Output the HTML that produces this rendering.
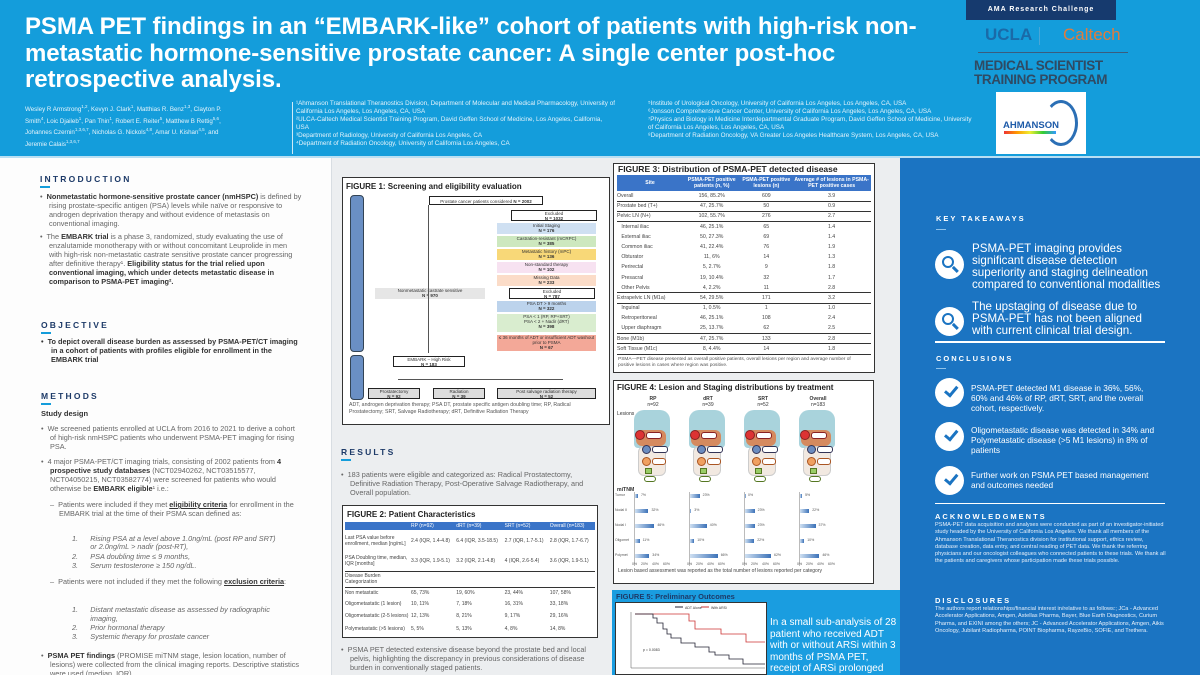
<!DOCTYPE html>
<html><head><meta charset="utf-8"><style>
*{margin:0;padding:0;box-sizing:border-box}
html,body{width:1200px;height:675px;overflow:hidden}
body{position:relative;background:#eceef0;font-family:"Liberation Sans",sans-serif;color:#555}
.a{position:absolute}
#hdr{left:0;top:0;width:1200px;height:156px;background:#149ddb}
h1{position:absolute;left:25px;top:14px;width:915px;font-size:24px;line-height:26.5px;color:#fff;font-weight:bold;letter-spacing:-0.1px}
.aff{font-size:6.3px;line-height:8px;color:#e4f3fb}
sup{font-size:4.5px;line-height:0;vertical-align:3px}
#left{left:0;top:158px;width:332px;height:517px;background:#fdfdfd;border-right:1px solid #d8dde2}
.sec{font-size:8.5px;font-weight:bold;letter-spacing:2.2px;color:#1d3a68}
.ul{width:10px;height:2px;background:#149ddb}
.t{font-size:7.3px;line-height:8.9px;color:#666}
.t b{color:#333}
#right{left:900px;top:158px;width:300px;height:517px;background:#1b74c2}
.rs{font-size:7.5px;font-weight:bold;letter-spacing:2px;color:#fff}
.rt{font-size:11.6px;line-height:12px;color:#fff}
.ct{font-size:8.3px;line-height:10px;color:#fff}
.circ{width:29px;height:29px;border-radius:50%;background:#fff}
.sm{font-size:5.6px;line-height:7.3px;color:#e8f0fa}
.box{background:#fff;border:1.3px solid #333}
.ft{font-size:8px;font-weight:bold;color:#222}
table{border-collapse:collapse;font-size:5px;color:#444}
.fb{position:absolute;font-size:4.5px;text-align:center;color:#333;line-height:5px}
</style></head><body>
<div id="hdr" class="a"></div>
<h1>PSMA PET findings in an “EMBARK-like” cohort of patients with high-risk non-metastatic hormone-sensitive prostate cancer: A single center post-hoc retrospective analysis.</h1>
<div class="a aff" style="left:25px;top:104px;width:215px;font-size:6.2px;line-height:11.5px">Wesley R Armstrong<sup>1,2</sup>, Kevyn J. Clark<sup>1</sup>, Matthias R. Benz<sup>1,3</sup>, Clayton P. Smith<sup>4</sup>, Loic Djaileb<sup>1</sup>, Pan Thin<sup>1</sup>, Robert E. Reiter<sup>5</sup>, Matthew B Rettig<sup>5,6</sup>, Johannes Czernin<sup>1,3,6,7</sup>, Nicholas G. Nickols<sup>4,8</sup>, Amar U. Kishan<sup>4,5</sup>, and Jeremie Calais<sup>1,3,6,7</sup></div>
<div class="a" style="left:292px;top:102px;width:1px;height:52px;background:#cfeaf7"></div>
<div class="a aff" style="left:296px;top:100px;width:320px">¹Ahmanson Translational Theranostics Division, Department of Molecular and Medical Pharmacology, University of California Los Angeles, Los Angeles, CA, USA<br>²ULCA-Caltech Medical Scientist Training Program, David Geffen School of Medicine, Los Angeles, California, USA<br>³Department of Radiology, University of California Los Angeles, CA<br>⁴Department of Radiation Oncology, University of California Los Angeles, CA</div>
<div class="a aff" style="left:648px;top:100px;width:325px">⁵Institute of Urological Oncology, University of California Los Angeles, Los Angeles, CA, USA<br>⁶Jonsson Comprehensive Cancer Center, University of California Los Angeles, Los Angeles, CA, USA<br>⁷Physics and Biology in Medicine Interdepartmental Graduate Program, David Geffen School of Medicine, University of California Los Angeles, Los Angeles, CA, USA<br>⁸Department of Radiation Oncology, VA Greater Los Angeles Healthcare System, Los Angeles, CA, USA</div>
<div class="a" style="left:966px;top:0;width:150px;height:20px;background:#163a6e;color:#fff;font-size:7px;font-weight:bold;letter-spacing:1px;text-align:center;line-height:20px">AMA Research Challenge</div>
<div class="a" style="left:985px;top:25px;font-size:17px;color:#1a6aa8;font-weight:bold">UCLA</div>
<div class="a" style="left:1039px;top:27px;width:1px;height:18px;background:#4aa6d6"></div>
<div class="a" style="left:1063px;top:25px;font-size:17px;color:#e07c3c">Caltech</div>
<div class="a" style="left:978px;top:52px;width:150px;height:1px;background:#3a5d7e"></div>
<div class="a" style="left:974px;top:59px;font-size:13.5px;line-height:14px;color:#2f4a63;font-weight:bold;letter-spacing:-0.4px">MEDICAL SCIENTIST<br>TRAINING PROGRAM</div>
<div class="a" style="left:996px;top:92px;width:90px;height:62px;background:#fff"></div>
<div class="a" style="left:1003px;top:120px;font-size:9.5px;font-weight:bold;color:#1d5aa8">AHMANSON</div>
<div class="a" style="left:1004px;top:131px;width:52px;height:3px;background:linear-gradient(90deg,#e33,#f90,#ee3,#3c3,#39f)"></div>
<div class="a" style="left:1044px;top:100px;width:34px;height:46px;border:3px solid #2b6fb5;border-left-color:transparent;border-radius:50%"></div>
<div class="a" style="left:0;top:156px;width:1200px;height:2px;background:#b9dff3"></div>

<div id="left" class="a"></div>
<div class="a sec" style="left:40px;top:174px">INTRODUCTION</div><div class="a ul" style="left:40px;top:186px"></div>
<div class="a t" style="left:40px;top:193px;width:262px;padding-left:9px;text-indent:-9px">•&nbsp; <b>Nonmetastatic hormone-sensitive prostate cancer (nmHSPC)</b> is defined by rising prostate-specific antigen (PSA) levels while naïve or responsive to androgen deprivation therapy and without evidence of metastasis on conventional imaging.</div>
<div class="a t" style="left:40px;top:233px;width:262px;padding-left:9px;text-indent:-9px">•&nbsp; The <b>EMBARK trial</b> is a phase 3, randomized, study evaluating the use of enzalutamide monotherapy with or without concomitant Leuprolide in men with high-risk non-metastatic castrate sensitive prostate cancer progressing after definitive therapy¹. <b>Eligibility status for the trial relied upon conventional imaging, which under detects metastatic disease in comparison to PSMA-PET imaging².</b></div>
<div class="a sec" style="left:41px;top:320px">OBJECTIVE</div><div class="a ul" style="left:41px;top:332px"></div>
<div class="a t" style="left:41px;top:338px;width:262px;padding-left:10px;text-indent:-10px"><b>•&nbsp; To depict overall disease burden as assessed by PSMA-PET/CT imaging in a cohort of patients with profiles eligible for enrollment in the EMBARK trial</b></div>
<div class="a sec" style="left:41px;top:391px">METHODS</div><div class="a ul" style="left:41px;top:403px"></div>
<div class="a" style="left:41px;top:409px;font-size:7.5px;font-weight:bold;color:#333">Study design</div>
<div class="a t" style="left:41px;top:425px;width:255px;padding-left:9px;text-indent:-9px">•&nbsp; We screened patients enrolled at UCLA from 2016 to 2021 to derive a cohort of high-risk nmHSPC patients who underwent PSMA-PET imaging for rising PSA.</div>
<div class="a t" style="left:41px;top:458px;width:262px;padding-left:9px;text-indent:-9px">•&nbsp; 4 major PSMA-PET/CT imaging trials, consisting of 2002 patients from <b>4 prospective study databases</b> (NCT02940262, NCT03515577, NCT04050215, NCT03582774) were screened for patients who would otherwise be <b>EMBARK eligible</b>¹ i.e.:</div>
<div class="a t" style="left:50px;top:501px;width:250px;padding-left:9px;text-indent:-9px">–&nbsp; Patients were included if they met <b><u>eligibility criteria</u></b> for enrollment in the EMBARK trial at the time of their PSMA scan defined as:</div>
<div class="a t" style="left:72px;top:535px;width:225px;font-style:italic;line-height:8px">1.&nbsp;&nbsp;&nbsp;&nbsp;&nbsp; Rising PSA at a level above 1.0ng/mL (post RP and SRT)<br>&nbsp;&nbsp;&nbsp;&nbsp;&nbsp;&nbsp;&nbsp;&nbsp; or 2.0ng/mL &gt; nadir (post-RT),<br><span style="line-height:11px">2.&nbsp;&nbsp;&nbsp;&nbsp;&nbsp; PSA doubling time ≤ 9 months,</span><br>3.&nbsp;&nbsp;&nbsp;&nbsp;&nbsp; Serum testosterone ≥ 150 ng/dL.</div>
<div class="a t" style="left:50px;top:578px;width:250px;padding-left:9px;text-indent:-9px">–&nbsp; Patients were not included if they met the following <b><u>exclusion criteria</u></b>:</div>
<div class="a t" style="left:72px;top:606px;width:225px;font-style:italic">1.&nbsp;&nbsp;&nbsp;&nbsp;&nbsp; Distant metastatic disease as assessed by radiographic<br>&nbsp;&nbsp;&nbsp;&nbsp;&nbsp;&nbsp;&nbsp;&nbsp; imaging,<br>2.&nbsp;&nbsp;&nbsp;&nbsp;&nbsp; Prior hormonal therapy<br>3.&nbsp;&nbsp;&nbsp;&nbsp;&nbsp; Systemic therapy for prostate cancer</div>
<div class="a t" style="left:41px;top:652px;width:265px;padding-left:9px;text-indent:-9px">•&nbsp; <b>PSMA PET findings</b> (PROMISE miTNM stage, lesion location, number of lesions) were collected from the clinical imaging reports. Descriptive statistics were used (median, IQR).</div>

<!-- Figure 1 -->
<div class="a box" style="left:342px;top:177px;width:268px;height:248px"></div>
<div class="a ft" style="left:346px;top:182px">FIGURE 1: Screening and eligibility evaluation</div>
<div class="a" style="left:350px;top:195px;width:14px;height:157px;background:#6a8fc4;border-radius:4px;border:1px solid #345"></div>
<div class="a" style="left:350px;top:355px;width:14px;height:45px;background:#6a8fc4;border-radius:4px;border:1px solid #345"></div>
<div class="fb" style="left:429px;top:196px;width:114px;height:9px;border:1px solid #222;padding-top:2px">Prostate cancer patients considered <b>N = 2002</b></div>
<div class="fb" style="left:511px;top:210px;width:86px;height:11px;border:1px solid #222">Excluded<br><b>N = 1032</b></div>
<div class="fb" style="left:497px;top:223px;width:99px;height:11px;background:#cfe0f2">Initial Staging<br><b>N = 176</b></div>
<div class="fb" style="left:497px;top:236px;width:99px;height:11px;background:#cde8bf">Castration-resistant (mCRPC)<br><b>N = 385</b></div>
<div class="fb" style="left:497px;top:249px;width:99px;height:11px;background:#f8d878">Metastatic history (mPC)<br><b>N = 136</b></div>
<div class="fb" style="left:497px;top:262px;width:99px;height:11px;background:#f7e2f1">Non-standard therapy<br><b>N = 102</b></div>
<div class="fb" style="left:497px;top:275px;width:99px;height:11px;background:#fbdcc8">Missing Data<br><b>N = 233</b></div>
<div class="fb" style="left:375px;top:288px;width:110px;height:11px;background:#e6e6e6">Nonmetastatic castrate sensitive<br><b>N = 970</b></div>
<div class="fb" style="left:509px;top:288px;width:86px;height:11px;border:1px solid #222">Excluded<br><b>N = 787</b></div>
<div class="fb" style="left:497px;top:301px;width:99px;height:11px;background:#bcd3ec">PSA DT &gt; 9 months<br><b>N = 322</b></div>
<div class="fb" style="left:497px;top:314px;width:99px;height:18px;background:#d9edcf">PSA &lt; 1 (RP, RP+SRT)<br>PSA &lt; 2 + Nadir (dRT)<br><b>N = 398</b></div>
<div class="fb" style="left:497px;top:335px;width:99px;height:16px;background:#f3a898">≤ 36 months of ADT or insufficient ADT washout prior to PSMA<br><b>N = 67</b></div>
<div class="a" style="left:428px;top:205px;width:1px;height:148px;background:#555"></div>
<div class="fb" style="left:393px;top:356px;width:72px;height:11px;border:1px solid #222">EMBARK – High Risk<br><b>N = 183</b></div>
<div class="a" style="left:398px;top:379px;width:165px;height:1px;background:#555"></div>
<div class="fb" style="left:368px;top:388px;width:52px;height:11px;background:#ddd;border:1px solid #222">Prostatectomy<br><b>N = 92</b></div>
<div class="fb" style="left:433px;top:388px;width:52px;height:11px;background:#ddd;border:1px solid #222">Radiation<br><b>N = 39</b></div>
<div class="fb" style="left:497px;top:388px;width:99px;height:11px;background:#ddd;border:1px solid #222">Post salvage radiation therapy<br><b>N = 52</b></div>
<div class="a" style="left:349px;top:402px;width:255px;font-size:5.2px;line-height:6.5px;color:#555">ADT, androgen deprivation therapy; PSA DT, prostate specific antigen doubling time; RP, Radical Prostatectomy; SRT, Salvage Radiotherapy; dRT, Definitive Radiation Therapy</div>

<div class="a sec" style="left:341px;top:447px">RESULTS</div><div class="a ul" style="left:341px;top:459px"></div>
<div class="a t" style="left:341px;top:471px;width:245px;padding-left:9px;text-indent:-9px">•&nbsp; 183 patients were eligible and categorized as: Radical Prostatectomy, Definitive Radiation Therapy, Post-Operative Salvage Radiotherapy, and Overall population.</div>
<div class="a box" style="left:342px;top:505px;width:256px;height:133px"></div>
<div class="a ft" style="left:347px;top:510px">FIGURE 2: Patient Characteristics</div>
<table class="a" style="left:345px;top:522px;width:250px">
<tr style="background:#3a74c8;color:#fff;height:8px"><td style="width:66px"></td><td>RP (n=92)</td><td>dRT (n=39)</td><td>SRT (n=52)</td><td>Overall (n=183)</td></tr>
<tr style="height:22px"><td>Last PSA value before enrollment, median [ng/mL]</td><td>2.4 (IQR, 1.4-4.8)</td><td>6.4 (IQR, 3.5-18.5)</td><td>2.7 (IQR, 1.7-5.1)</td><td>2.8 (IQR, 1.7-6.7)</td></tr>
<tr style="height:19px;border-bottom:1px solid #333"><td>PSA Doubling time, median, IQR [months]</td><td>3.3 (IQR, 1.9-5.1)</td><td>3.2 (IQR, 2.1-4.8)</td><td>4 (IQR, 2.6-5.4)</td><td>3.6 (IQR, 1.9-5.1)</td></tr>
<tr style="height:16px;border-bottom:1px solid #333"><td>Disease Burden Categorization</td><td></td><td></td><td></td><td></td></tr>
<tr style="height:11px"><td>Non metastatic</td><td>65, 73%</td><td>19, 60%</td><td>23, 44%</td><td>107, 58%</td></tr>
<tr style="height:11px"><td>Oligometastatic (1 lesion)</td><td>10, 11%</td><td>7, 18%</td><td>16, 31%</td><td>33, 18%</td></tr>
<tr style="height:14px"><td>Oligometastatic (2-5 lesions)</td><td>12, 13%</td><td>8, 21%</td><td>9, 17%</td><td>29, 16%</td></tr>
<tr style="height:11px"><td>Polymetastatic (&gt;5 lesions)</td><td>5, 5%</td><td>5, 13%</td><td>4, 8%</td><td>14, 8%</td></tr>
</table>
<div class="a t" style="left:341px;top:646px;width:255px;padding-left:9px;text-indent:-9px">•&nbsp; PSMA PET detected extensive disease beyond the prostate bed and local pelvis, highlighting the discrepancy in previous considerations of disease burden in conventionally staged patients.</div>

<!-- Figure 3 -->
<div class="a box" style="left:613px;top:163px;width:262px;height:210px"></div>
<div class="a ft" style="left:618px;top:164px;font-size:8.5px">FIGURE 3: Distribution of PSMA-PET detected disease</div>
<table class="a" style="left:617px;top:175px;width:254px;font-size:5.2px">
<tr style="background:#3a74c8;color:#fff;height:16px;text-align:center;font-weight:bold"><td style="width:66px">Site</td><td>PSMA-PET positive patients (n, %)</td><td>PSMA-PET positive lesions (n)</td><td>Average # of lesions in PSMA-PET positive cases</td></tr>
<tr style="height:10.2px;border-bottom:1px solid #333"><td>Overall</td><td align=center>156, 85.2%</td><td align=center>609</td><td align=center>3.9</td></tr>
<tr style="height:10.2px;border-bottom:1px solid #333"><td>Prostate bed (T+)</td><td align=center>47, 25.7%</td><td align=center>50</td><td align=center>0.9</td></tr>
<tr style="height:10.2px;border-bottom:1px solid #333"><td>Pelvic LN (N+)</td><td align=center>102, 55.7%</td><td align=center>276</td><td align=center>2.7</td></tr>
<tr style="height:10.2px"><td>&nbsp;&nbsp;&nbsp;Internal iliac</td><td align=center>46, 25.1%</td><td align=center>65</td><td align=center>1.4</td></tr>
<tr style="height:10.2px"><td>&nbsp;&nbsp;&nbsp;External iliac</td><td align=center>50, 27.3%</td><td align=center>69</td><td align=center>1.4</td></tr>
<tr style="height:10.2px"><td>&nbsp;&nbsp;&nbsp;Common iliac</td><td align=center>41, 22.4%</td><td align=center>76</td><td align=center>1.9</td></tr>
<tr style="height:10.2px"><td>&nbsp;&nbsp;&nbsp;Obturator</td><td align=center>11, 6%</td><td align=center>14</td><td align=center>1.3</td></tr>
<tr style="height:10.2px"><td>&nbsp;&nbsp;&nbsp;Perirectal</td><td align=center>5, 2.7%</td><td align=center>9</td><td align=center>1.8</td></tr>
<tr style="height:10.2px"><td>&nbsp;&nbsp;&nbsp;Presacral</td><td align=center>19, 10.4%</td><td align=center>32</td><td align=center>1.7</td></tr>
<tr style="height:10.2px;border-bottom:1px solid #333"><td>&nbsp;&nbsp;&nbsp;Other Pelvis</td><td align=center>4, 2.2%</td><td align=center>11</td><td align=center>2.8</td></tr>
<tr style="height:10.2px;border-bottom:1px solid #333"><td>Extrapelvic LN (M1a)</td><td align=center>54, 29.5%</td><td align=center>171</td><td align=center>3.2</td></tr>
<tr style="height:10.2px"><td>&nbsp;&nbsp;&nbsp;Inguinal</td><td align=center>1, 0.5%</td><td align=center>1</td><td align=center>1.0</td></tr>
<tr style="height:10.2px"><td>&nbsp;&nbsp;&nbsp;Retroperitoneal</td><td align=center>46, 25.1%</td><td align=center>108</td><td align=center>2.4</td></tr>
<tr style="height:10.2px;border-bottom:1px solid #333"><td>&nbsp;&nbsp;&nbsp;Upper diaphragm</td><td align=center>25, 13.7%</td><td align=center>62</td><td align=center>2.5</td></tr>
<tr style="height:10.2px;border-bottom:1.5px solid #333"><td>Bone (M1b)</td><td align=center>47, 25.7%</td><td align=center>133</td><td align=center>2.8</td></tr>
<tr style="height:10.2px;border-bottom:1px solid #333"><td>Soft Tissue (M1c)</td><td align=center>8, 4.4%</td><td align=center>14</td><td align=center>1.8</td></tr>
</table>
<div class="a" style="left:618px;top:357px;width:250px;font-size:4.8px;line-height:6px;color:#555">PSMA—PET disease presented as overall positive patients, overall lesions per region and average number of positive lesions in cases where region was positive.</div>

<!-- Figure 4 -->
<div class="a box" style="left:613px;top:380px;width:261px;height:204px"></div>
<div class="a ft" style="left:617px;top:383px">FIGURE 4: Lesion and Staging distributions by treatment</div>
<div class="a" style="left:617px;top:411px;font-size:5px;color:#333">Lesions</div>
<div class="a" style="left:617px;top:487px;font-size:5.2px;font-weight:bold;color:#333">miTNM</div>
<div id="f4"></div>
<div class="a" style="left:618px;top:568px;width:250px;font-size:5px;line-height:6px;color:#444">Lesion based assessment was reported as the total number of lesions reported per category</div>

<!-- Figure 5 -->
<div class="a" style="left:612px;top:590px;width:288px;height:85px;background:#1a9de0;overflow:hidden"></div>
<div class="a" style="left:616px;top:592px;font-size:7.5px;font-weight:bold;color:#1d3a68">FIGURE 5: Preliminary Outcomes</div>
<div class="a" style="left:615px;top:602px;width:152px;height:73px;background:#fff;border:1px solid #333"></div>
<svg class="a" style="left:615px;top:602px" width="152" height="73">
<line x1="60" y1="5" x2="68" y2="5" stroke="#223" stroke-width="1"/><line x1="86" y1="5" x2="94" y2="5" stroke="#c33" stroke-width="1"/>
<text x="70" y="7" font-size="3.5" fill="#333">ADT Alone</text><text x="96" y="7" font-size="3.5" fill="#333">With ARSi</text>
<line x1="16" y1="10" x2="16" y2="66" stroke="#555" stroke-width="0.5"/><line x1="16" y1="66" x2="150" y2="66" stroke="#555" stroke-width="0.5"/>
<polyline fill="none" stroke="#c33" stroke-width="0.8" points="20,12 74,12 74,19 80,19 80,27 106,27 106,32 131,32 131,40 150,40"/>
<polyline fill="none" stroke="#223" stroke-width="0.8" points="20,12 38,12 38,16 42,16 42,21 48,21 48,27 52,27 52,32 56,32 56,36 66,36 66,41 80,41 80,45 94,45 94,50 100,50 100,53 114,53 114,57 128,57 128,62 150,62"/>
<text x="28" y="49" font-size="3.5" fill="#333">p = 0.0083</text>
</svg>
<div class="a" style="left:770px;top:617px;width:128px;height:58px;overflow:hidden;font-size:10px;line-height:11.5px;color:#fff">In a small sub-analysis of 28 patient who received ADT with or without ARSi within 3 months of PSMA PET, receipt of ARSi prolonged time to PSA rise.</div>

<!-- Right -->
<div id="right" class="a"></div>
<div class="a rs" style="left:936px;top:214px">KEY TAKEAWAYS</div>
<div class="a" style="left:936px;top:229px;width:10px;height:1px;background:#8fc2ea"></div>
<div class="a circ" style="left:935px;top:250px"></div><div class="a circ" style="left:935px;top:307px"></div>
<div class="a" style="left:942px;top:256px;width:12px;height:12px;border:2px solid #1b74c2;border-radius:50%"></div>
<div class="a" style="left:942px;top:313px;width:12px;height:12px;border:2px solid #1b74c2;border-radius:50%"></div>
<div class="a" style="left:952px;top:268px;width:7px;height:2.5px;background:#1b74c2;transform:rotate(45deg)"></div>
<div class="a" style="left:952px;top:325px;width:7px;height:2.5px;background:#1b74c2;transform:rotate(45deg)"></div>
<div class="a rt" style="left:972px;top:243px;width:192px">PSMA-PET imaging provides significant disease detection superiority and staging delineation compared to conventional modalities</div>
<div class="a rt" style="left:972px;top:301px;width:186px">The upstaging of disease due to PSMA-PET has not been aligned with current clinical trial design.</div>
<div class="a" style="left:935px;top:341px;width:230px;height:2px;background:#fff"></div>
<div class="a rs" style="left:936px;top:354px">CONCLUSIONS</div>
<div class="a" style="left:936px;top:368px;width:10px;height:1px;background:#8fc2ea"></div>
<div class="a circ" style="left:935px;top:378px"></div><div class="a circ" style="left:935px;top:422px"></div><div class="a circ" style="left:935px;top:466px"></div>
<div class="a" style="left:943px;top:384px;width:8px;height:13px;border-right:3.5px solid #1b74c2;border-bottom:3.5px solid #1b74c2;transform:rotate(40deg) translate(3px,-3px)"></div>
<div class="a" style="left:943px;top:428px;width:8px;height:13px;border-right:3.5px solid #1b74c2;border-bottom:3.5px solid #1b74c2;transform:rotate(40deg) translate(3px,-3px)"></div>
<div class="a" style="left:943px;top:472px;width:8px;height:13px;border-right:3.5px solid #1b74c2;border-bottom:3.5px solid #1b74c2;transform:rotate(40deg) translate(3px,-3px)"></div>
<div class="a ct" style="left:971px;top:383px;width:190px">PSMA-PET detected M1 disease in 36%, 56%, 60% and 46% of RP, dRT, SRT, and the overall cohort, respectively.</div>
<div class="a ct" style="left:971px;top:425px;width:190px">Oligometastatic disease was detected in 34% and Polymetastatic disease (&gt;5 M1 lesions) in 8% of patients</div>
<div class="a ct" style="left:971px;top:470px;width:190px">Further work on PSMA PET based management and outcomes needed</div>
<div class="a" style="left:935px;top:503px;width:230px;height:1px;background:#fff"></div>
<div class="a rs" style="left:935px;top:512px">ACKNOWLEDGMENTS</div>
<div class="a sm" style="left:935px;top:522px;width:232px">PSMA-PET data acquisition and analyses were conducted as part of an investigator-initiated study headed by the University of California Los Angeles. We thank all members of the Ahmanson Translational Theranostics division for institutional support, ethics review, database creation, data entry, and central reading of PET data. We thank the referring physicians and our oncologist colleagues who connected patients to these trials. We thank all the patients and caregivers whose participation made these trials possible.</div>
<div class="a rs" style="left:935px;top:596px">DISCLOSURES</div>
<div class="a sm" style="left:935px;top:606px;width:232px">The authors report relationships/financial interest in/relative to as follows:; JCa - Advanced Accelerator Applications, Amgen, Astellas Pharma, Bayer, Blue Earth Diagnostics, Curium Pharma, and EXINI among the others; JC - Advanced Accelerator Applications, Amgen, Aikis Oncology, Jubilant Radiopharma, POINT Biopharma, RayzeBio, SOFIE, and Trethera.</div>

<script>
var f=document.getElementById('f4'),h='';
var lbl=[['RP','n=92'],['dRT','n=39'],['SRT','n=52'],['Overall','n=183']];
var bars=[[7,32,46,11,34],[23,3,40,10,66],[0,23,23,22,62],[5,22,37,10,46]];
for(var i=0;i<4;i++){var x=632+i*55;
h+='<div class="a" style="left:'+(x+6)+'px;top:396px;width:30px;text-align:center;font-size:5px;line-height:6px;color:#333"><b>'+lbl[i][0]+'</b><br>'+lbl[i][1]+'</div>';
h+='<div class="a" style="left:'+(x+2)+'px;top:410px;width:36px;height:38px;background:#a9d3dc;border-radius:10px 10px 4px 4px"></div>';
h+='<div class="a" style="left:'+(x+4)+'px;top:430px;width:30px;height:16px;background:#e07840;border-radius:6px;opacity:.8"></div>';
h+='<div class="a" style="left:'+(x+6)+'px;top:446px;width:28px;height:30px;border:1px solid #ccc;border-radius:6px;background:#f2e9e1"></div>';
h+='<div class="a" style="left:'+(x+3)+'px;top:430px;width:10px;height:10px;border-radius:50%;background:#d33;border:1px solid #822"></div>';
h+='<div class="a" style="left:'+(x+14)+'px;top:432px;width:16px;height:7px;border:1px solid #822;border-radius:3px;background:#fff"></div>';
h+='<div class="a" style="left:'+(x+10)+'px;top:445px;width:9px;height:9px;border-radius:50%;background:#6b8cc0;border:1px solid #335"></div>';
h+='<div class="a" style="left:'+(x+20)+'px;top:446px;width:16px;height:7px;border:1px solid #335;border-radius:3px;background:#fff"></div>';
h+='<div class="a" style="left:'+(x+10)+'px;top:457px;width:9px;height:9px;border-radius:50%;background:#f0a060;border:1px solid #a52"></div>';
h+='<div class="a" style="left:'+(x+20)+'px;top:458px;width:14px;height:7px;border:1px solid #a52;border-radius:3px;background:#fff"></div>';
h+='<div class="a" style="left:'+(x+13)+'px;top:468px;width:7px;height:6px;background:#9c6;border:1px solid #572"></div>';
h+='<div class="a" style="left:'+(x+12)+'px;top:476px;width:12px;height:6px;border:1px solid #572;border-radius:3px;background:#fff"></div>';
h+='<div class="a" style="left:'+(x+2)+'px;top:492px;width:1px;height:74px;background:#bbb"></div>';
for(var j=0;j<5;j++){var w=bars[i][j]*0.42;
h+='<div class="a" style="left:'+(x+3)+'px;top:'+(494+j*15)+'px;width:'+Math.max(w,1)+'px;height:4px;background:linear-gradient(90deg,#cfe0f2,#3c72b8)"></div>';
h+='<div class="a" style="left:'+(x+6+w)+'px;top:'+(493+j*15)+'px;font-size:3.5px;color:#555">'+bars[i][j]+'%</div>';}
h+='<div class="a" style="left:'+x+'px;top:562px;font-size:3.5px;color:#555;word-spacing:3px">0% 20% 40% 60%</div>';}
var rl=['Tumor','Nodal II','Nodal I','Oligomet','Polymet'];
for(var j=0;j<5;j++)h+='<div class="a" style="left:615px;top:'+(493+j*15)+'px;font-size:3.5px;color:#555">'+rl[j]+'</div>';
f.innerHTML=h;
</script>
</body></html>
